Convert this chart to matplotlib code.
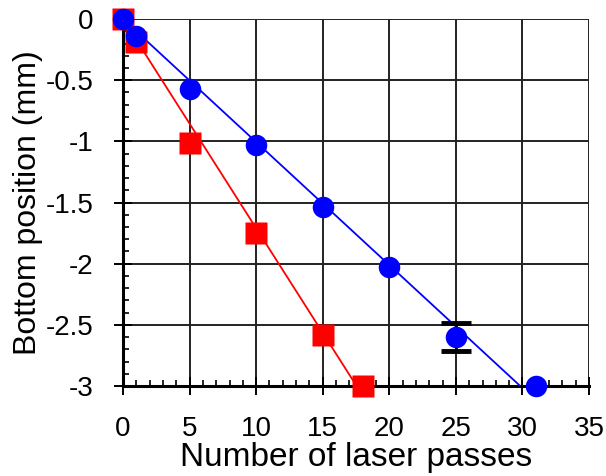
import matplotlib

matplotlib.use("Agg")
import matplotlib.pyplot as plt
import numpy as np
from matplotlib.ticker import MultipleLocator

plt.rcParams["font.family"] = ["Liberation Sans", "DejaVu Sans"]
plt.rcParams["axes.unicode_minus"] = False

# data
passes_red = np.array([0, 1, 5, 10, 15, 18])
bottom_red = np.array([0, -0.19, -1.01, -1.75, -2.58, -3.0])

passes_blue = np.array([0, 1, 5, 10, 15, 20, 25, 31])
bottom_blue = np.array([0, -0.14, -0.57, -1.03, -1.54, -2.03, -2.60, -3.0])
err_blue = np.array([0, 0, 0, 0, 0, 0, 0.115, 0])

xticks = [0, 5, 10, 15, 20, 25, 30, 35]
yticks = [0, -0.5, -1, -1.5, -2, -2.5, -3]
yticklabels = ["0", "-0.5", "-1", "-1.5", "-2", "-2.5", "-3"]


def fit_through_origin(x, y):
    return np.sum(x * y) / np.sum(x * x)


fig = plt.figure(figsize=(6.06, 4.76), dpi=100)
ax = fig.add_axes([0.203, 0.189, 0.769, 0.771])

# linear fits through the origin
k_red = fit_through_origin(passes_red, bottom_red)
k_blue = fit_through_origin(passes_blue, bottom_blue)
xr = np.array([0, passes_red.max()])
xb = np.array([0, passes_blue.max()])
ax.plot(xr, k_red * xr, color="red", lw=1.3, zorder=3)
ax.plot(xb, k_blue * xb, color="blue", lw=1.3, zorder=3)

ax.errorbar(
    passes_blue[err_blue > 0], bottom_blue[err_blue > 0], yerr=err_blue[err_blue > 0],
    fmt="none", ecolor="black", elinewidth=2, capsize=11, capthick=3.5, zorder=4,
    clip_on=False,
)
ax.plot(passes_red, bottom_red, "s", color="red", ms=16, mec="none", zorder=5, clip_on=False)
ax.plot(passes_blue, bottom_blue, "o", color="blue", ms=15.5, mec="none", zorder=6, clip_on=False)

ax.set_xlim(0, 35)
ax.set_ylim(-3, 0)
ax.set_xticks(xticks)
ax.set_yticks(yticks)
ax.set_yticklabels(yticklabels)
ax.xaxis.set_minor_locator(MultipleLocator(1))
ax.yaxis.set_minor_locator(MultipleLocator(0.1))

ax.grid(True, which="major", color="#222222", lw=1.4)
ax.set_axisbelow(True)
for side in ["top", "right"]:
    ax.spines[side].set_visible(False)
for side in ["left", "bottom"]:
    ax.spines[side].set_linewidth(2.2)

ax.tick_params(which="major", direction="inout", length=13, width=1.4, labelsize=20)
ax.tick_params(axis="x", which="major", pad=15)
ax.tick_params(axis="y", which="major", pad=15)
ax.tick_params(which="minor", direction="in", length=4.5, width=1.2)

ax.set_xlabel("Number of laser passes", fontsize=24, labelpad=0)
ax.set_ylabel("Bottom position (mm)", fontsize=23, labelpad=2)

fig.savefig("out.png", dpi=100)
